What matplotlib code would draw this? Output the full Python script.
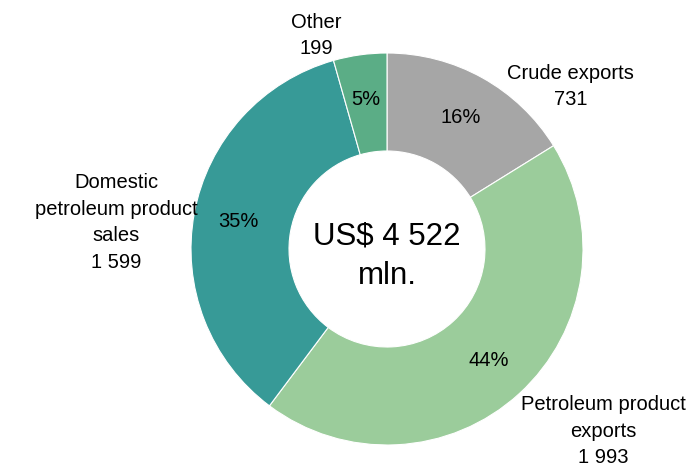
import matplotlib.pyplot as plt
import numpy as np

# revenue breakdown, US$ mln
categories = ["Crude exports", "Petroleum product\nexports", "Domestic\npetroleum product\nsales", "Other"]
values = [731, 1993, 1599, 199]
value_labels = ["731", "1 993", "1 599", "199"]
pct_labels = ["16%", "44%", "35%", "5%"]
total_label = "US$ 4 522\nmln."

colors = ["#A6A6A6", "#9BCC9B", "#379A97", "#5BAD86"]

# where the category labels sit, in pie radius units
label_pos = [(0.935, 0.83), (1.105, -0.93), (-1.38, 0.135), (-0.36, 1.09)]

font = ["Liberation Sans", "DejaVu Sans"]

fig = plt.figure(figsize=(6.88, 4.70), dpi=100)
ax = fig.add_axes([0, 0, 1, 1])

wedges, _ = ax.pie(values, colors=colors, startangle=90, counterclock=False,
                   radius=1.0, wedgeprops=dict(width=0.5, edgecolor="white", linewidth=0.8))

# percent labels inside the ring
for w, pct in zip(wedges, pct_labels):
    ang = np.deg2rad((w.theta1 + w.theta2) / 2)
    r = 0.77
    ax.text(r * np.cos(ang), r * np.sin(ang), pct, ha="center", va="center",
            fontsize=14.5, family=font)

# category names with values
for (x, y), name, val in zip(label_pos, categories, value_labels):
    ax.text(x, y, f"{name}\n{val}", ha="center", va="center", fontsize=14.5,
            family=font, linespacing=1.5)

ax.text(0, -0.035, total_label, ha="center", va="center", fontsize=22.5,
        family=font, linespacing=1.42)

# 196 px per unit, centre at (387, 249) px from top-left
ax.set_xlim(-387 / 196, (688 - 387) / 196)
ax.set_ylim(-(470 - 249) / 196, 249 / 196)
ax.set_aspect("auto")
ax.axis("off")

fig.savefig("out.png", dpi=100)
